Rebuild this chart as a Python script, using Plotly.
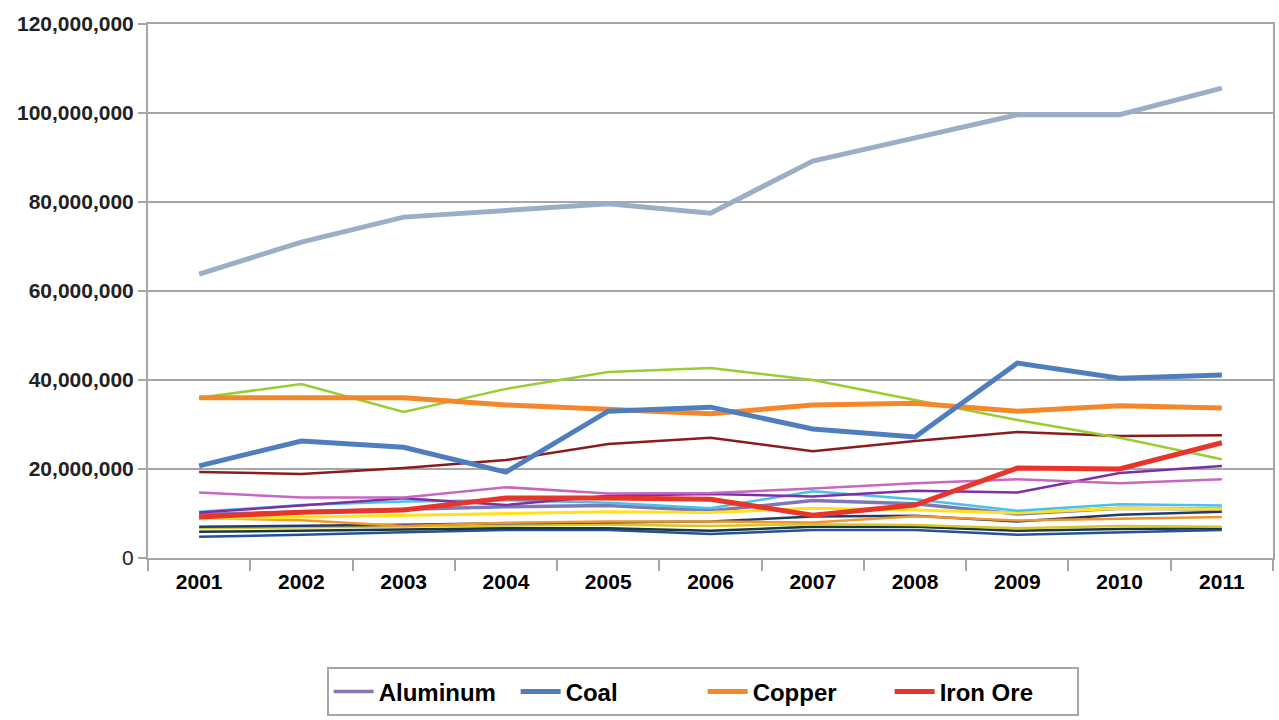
import plotly.graph_objects as go

years = ["2001", "2002", "2003", "2004", "2005", "2006", "2007", "2008", "2009", "2010", "2011"]

# values in millions
aluminum = [9.8, 10.4, 11.0, 11.5, 11.8, 10.6, 12.9, 12.2, 9.9, 11.2, 11.0]
coal = [20.7, 26.3, 24.9, 19.3, 33.0, 33.9, 29.0, 27.2, 43.8, 40.4, 41.1]
copper = [36.0, 36.0, 36.0, 34.4, 33.5, 32.4, 34.4, 34.8, 33.0, 34.2, 33.7]
iron_ore = [9.2, 10.3, 10.8, 13.5, 13.5, 13.2, 9.6, 11.9, 20.2, 20.0, 25.9]

stone = [63.8, 71.0, 76.6, 78.0, 79.6, 77.5, 89.2, 94.4, 99.6, 99.6, 105.6]
sand_gravel = [36.0, 39.1, 32.8, 38.0, 41.8, 42.7, 40.0, 35.5, 31.0, 27.0, 22.2]
gold = [19.3, 18.9, 20.2, 22.0, 25.6, 27.0, 24.0, 26.3, 28.3, 27.4, 27.6]
nickel = [14.7, 13.6, 13.6, 15.9, 14.5, 14.6, 15.6, 16.8, 17.7, 16.8, 17.7]
zinc = [10.2, 11.8, 13.4, 11.9, 14.0, 14.4, 13.8, 15.1, 14.7, 19.1, 20.7]
lead = [10.4, 11.9, 12.7, 13.0, 12.4, 11.2, 15.0, 13.2, 10.6, 12.1, 11.8]
silver = [8.8, 9.2, 9.7, 10.1, 10.4, 10.2, 11.2, 10.8, 10.1, 11.2, 11.0]
phosphate = [9.0, 8.5, 7.2, 7.9, 8.2, 8.2, 8.0, 9.4, 8.4, 8.8, 9.2]
uranium = [6.7, 6.9, 7.1, 7.3, 7.5, 7.2, 7.6, 7.4, 6.7, 7.2, 7.0]
potash = [7.0, 7.2, 7.5, 7.8, 8.0, 8.2, 9.3, 9.5, 8.2, 9.7, 10.4]
salt = [5.9, 6.1, 6.4, 6.7, 6.7, 6.1, 7.0, 7.0, 6.1, 6.5, 6.7]
gypsum = [4.8, 5.2, 5.8, 6.3, 6.3, 5.4, 6.3, 6.3, 5.2, 5.8, 6.3]

y_tick_values = [0, 20e6, 40e6, 60e6, 80e6, 100e6, 120e6]
y_tick_labels = ["0", "20,000,000", "40,000,000", "60,000,000", "80,000,000", "100,000,000", "120,000,000"]

thin_series = [
    ("Aluminum", aluminum, "#8078B4", 3.5, True, 1),
    ("Gypsum", gypsum, "#27509A", 2.5, False, 10),
    ("Salt", salt, "#173A3E", 2.5, False, 10),
    ("Uranium", uranium, "#D8C62A", 2.5, False, 10),
    ("Potash", potash, "#1F3C6E", 2.5, False, 10),
    ("Phosphate", phosphate, "#F0962D", 2.5, False, 10),
    ("Silver", silver, "#FFE21A", 3, False, 10),
    ("Lead", lead, "#45C3E8", 2.5, False, 10),
    ("Zinc", zinc, "#7B2FA8", 2.5, False, 10),
    ("Nickel", nickel, "#C866C0", 2.5, False, 10),
    ("Gold", gold, "#8B1C1C", 2.5, False, 10),
    ("Sand & Gravel", sand_gravel, "#9ACD32", 2.5, False, 10),
]
thick_series = [
    ("Stone", stone, "#9AAFC7", 5, False, 10),
    ("Copper", copper, "#F5872B", 5, True, 3),
    ("Coal", coal, "#4F7EC0", 5, True, 2),
    ("Iron Ore", iron_ore, "#E8352A", 5, True, 4),
]

fig = go.Figure()
for name, vals, color, width, show, rank in thin_series + thick_series:
    fig.add_trace(go.Scatter(
        x=years, y=[v * 1e6 for v in vals], name=name, mode="lines",
        line=dict(color=color, width=width),
        showlegend=show, legendrank=rank,
    ))

font_family = "Liberation Sans, Arial, sans-serif"

fig.update_layout(
    width=1279, height=720,
    margin=dict(l=148, r=4, t=24, b=162),
    paper_bgcolor="white", plot_bgcolor="white",
    font=dict(family=font_family, color="black"),
    legend=dict(
        orientation="h", x=0.493, xanchor="center", y=-0.205, yanchor="top",
        bordercolor="#A6A6A6", borderwidth=2,
        font=dict(size=24, family=font_family, weight="bold"),
        itemwidth=40, entrywidth=132, entrywidthmode="pixels",
        traceorder="normal",
    ),
    showlegend=True,
)
fig.update_xaxes(
    type="category", range=[-0.5, 10.5],
    showgrid=False, showline=True, linecolor="#A6A6A6", linewidth=2, mirror=True,
    ticks="outside", tickson="boundaries", ticklen=11, tickcolor="#A6A6A6", tickwidth=2,
    ticklabelstandoff=4,
    tickfont=dict(size=21, family=font_family, weight="bold", color="black"),
)
fig.update_yaxes(
    range=[0, 120e6], tickmode="array", tickvals=y_tick_values,
    ticktext=[("<b>" + t + "</b>") if t != "0" else t for t in y_tick_labels],
    showgrid=True, gridcolor="#A6A6A6", gridwidth=2,
    showline=True, linecolor="#A6A6A6", linewidth=2, mirror=True,
    ticks="outside", ticklen=8, tickcolor="#A6A6A6", tickwidth=2,
    tickfont=dict(size=21, family=font_family, color="#222222"),
    zeroline=False,
)

fig.write_html("out.html")
